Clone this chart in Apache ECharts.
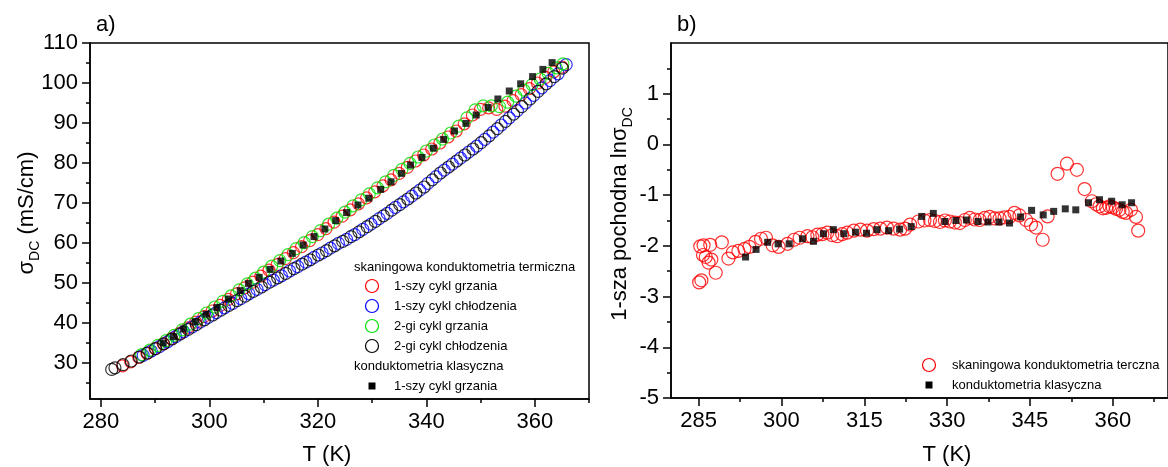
<!DOCTYPE html>
<html><head><meta charset="utf-8">
<script src="https://cdn.jsdelivr.net/npm/echarts@6/dist/echarts.min.js"></script>
<style>html,body{margin:0;padding:0;background:#fff}#c{width:1168px;height:467px}</style>
</head><body><div id="c"></div>
<script>
// ---------- panel a) data: T (K), sigma_DC (mS/cm) ----------
const heating1 = [[284.0,29.3],[285.5,30.3],[287.0,31.4],[288.5,32.4],[290.0,33.6],[291.5,34.8],[293.0,36.1],[294.5,37.4],[296.0,38.8],[297.5,40.2],[299.0,41.6],[300.5,43.0],[302.0,44.4],[303.5,45.9],[305.0,47.3],[306.5,48.8],[308.0,50.2],[309.5,51.7],[311.0,53.2],[312.5,54.6],[314.0,56.1],[315.5,57.6],[317.0,59.1],[318.5,60.6],[320.0,62.1],[321.5,63.6],[323.0,65.2],[324.5,66.7],[326.0,68.3],[327.5,69.8],[329.0,71.3],[330.5,72.8],[332.0,74.3],[333.5,75.8],[335.0,77.4],[336.5,78.9],[338.0,80.5],[339.5,82.0],[341.0,83.5],[342.5,85.0],[344.0,86.5],[345.5,88.0],[347.0,89.8],[348.5,92.0],[350.0,93.4],[351.5,93.8],[353.0,93.4],[354.5,94.2],[356.0,95.6],[357.5,97.1],[359.0,98.6],[360.5,100.0],[362.0,101.4],[363.5,102.8],[365.0,104.0]];
const cooling1 = [[365.8,104.6],[364.3,102.3],[362.8,100.6],[361.3,98.8],[359.8,96.9],[358.3,95.0],[356.8,93.1],[355.3,91.3],[353.8,89.5],[352.3,87.7],[350.8,85.9],[349.3,84.2],[347.8,82.7],[346.3,81.2],[344.8,79.7],[343.3,78.2],[341.8,76.6],[340.3,74.9],[338.8,73.2],[337.3,71.7],[335.8,70.3],[334.3,68.9],[332.8,67.4],[331.3,66.1],[329.8,64.7],[328.3,63.4],[326.8,62.1],[325.3,60.9],[323.8,59.9],[322.3,58.7],[320.8,57.5],[319.3,56.4],[317.8,55.2],[316.3,54.1],[314.8,53.0],[313.3,51.8],[311.8,50.7],[310.3,49.6],[308.8,48.4],[307.3,47.3],[305.8,46.1],[304.3,44.9],[302.8,43.8],[301.3,42.6],[299.8,41.4],[298.3,40.2],[296.8,39.0],[295.3,37.8],[293.8,36.6],[292.3,35.3],[290.8,34.1],[289.3,33.0],[287.8,31.9]];
const heating2 = [[287.5,32.1],[289.0,33.2],[290.5,34.4],[292.0,35.6],[293.5,36.9],[295.0,38.3],[296.5,39.7],[298.0,41.1],[299.5,42.5],[301.0,44.0],[302.5,45.4],[304.0,46.8],[305.5,48.3],[307.0,49.8],[308.5,51.2],[310.0,52.7],[311.5,54.2],[313.0,55.6],[314.5,57.1],[316.0,58.6],[317.5,60.1],[319.0,61.6],[320.5,63.1],[322.0,64.7],[323.5,66.2],[325.0,67.7],[326.5,69.3],[328.0,70.8],[329.5,72.3],[331.0,73.8],[332.5,75.3],[334.0,76.9],[335.5,78.4],[337.0,79.9],[338.5,81.5],[340.0,83.0],[341.5,84.5],[343.0,86.0],[344.5,87.5],[346.0,89.2],[347.5,91.3],[349.0,93.3],[350.5,94.3],[352.0,94.3],[353.5,94.1],[355.0,95.2],[356.5,96.7],[358.0,98.2],[359.5,99.6],[361.0,101.0],[362.5,102.4],[364.0,103.8],[365.2,104.8]];
const cooling2 = [[365.1,103.7],[363.6,101.6],[362.1,99.8],[360.6,97.9],[359.1,96.0],[357.6,94.1],[356.1,92.2],[354.6,90.4],[353.1,88.6],[351.6,86.8],[350.1,85.1],[348.6,83.5],[347.1,82.0],[345.6,80.5],[344.1,79.0],[342.6,77.5],[341.1,75.8],[339.6,74.0],[338.1,72.5],[336.6,71.0],[335.1,69.6],[333.6,68.2],[332.1,66.8],[330.6,65.4],[329.1,64.1],[327.6,62.8],[326.1,61.6],[324.6,60.4],[323.1,59.3],[321.6,58.1],[320.1,57.0],[318.6,55.8],[317.1,54.7],[315.6,53.6],[314.1,52.4],[312.6,51.3],[311.1,50.2],[309.6,49.0],[308.1,47.9],[306.6,46.7],[305.1,45.6],[303.6,44.4],[302.1,43.2],[300.6,42.0],[299.1,40.8],[297.6,39.6],[296.1,38.4],[294.6,37.2],[293.1,36.0],[291.6,34.8],[290.1,33.6],[288.6,32.5],[287.1,31.5],[285.6,30.5],[284.1,29.6],[282.6,28.8],[282.0,28.4]];
const classicA = [[291.5,35.0],[293.4,36.6],[295.2,38.5],[297.4,40.3],[299.4,42.2],[301.4,43.9],[303.5,46.0],[305.7,48.1],[307.2,49.9],[309.2,51.4],[311.2,53.4],[313.2,55.5],[315.3,57.4],[317.3,59.5],[319.3,61.6],[321.3,63.5],[323.3,65.6],[325.3,67.6],[327.4,69.5],[329.4,71.2],[331.6,73.4],[333.5,75.3],[335.4,77.4],[337.1,79.5],[339.2,81.4],[341.3,83.7],[343.2,85.9],[345.2,88.0],[347.3,89.9],[349.2,92.0],[351.4,93.9],[353.2,96.0],[355.3,98.0],[357.4,99.8],[359.6,101.6],[361.5,103.4],[363.2,105.1]];

// ---------- panel b) data: T (K), 1st derivative ln sigma_DC ----------
const scanB = [[285.1,-2.72],[285.5,-2.68],[285.3,-2.01],[285.9,-1.99],[287.1,-1.98],[285.8,-2.18],[286.3,-2.22],[286.8,-2.33],[287.3,-2.27],[288.1,-2.53],[289.2,-1.93],[290.4,-2.25],[291.2,-2.13],[292.2,-2.10],[293.3,-2.06],[294.2,-2.02],[295.3,-1.92],[296.3,-1.86],[297.2,-1.84],[298.4,-1.99],[299.5,-2.02],[301.1,-1.96],[302.3,-1.88],[303.3,-1.84],[304.7,-1.81],[305.6,-1.83],[306.5,-1.78],[307.4,-1.77],[308.3,-1.74],[309.2,-1.79],[310.1,-1.81],[311.0,-1.77],[311.9,-1.74],[313.1,-1.70],[314.3,-1.68],[315.5,-1.70],[316.7,-1.67],[317.9,-1.66],[319.1,-1.64],[320.3,-1.66],[321.5,-1.68],[322.4,-1.66],[323.3,-1.58],[324.8,-1.52],[325.9,-1.50],[326.9,-1.49],[327.8,-1.51],[328.7,-1.53],[329.6,-1.50],[330.5,-1.52],[331.4,-1.54],[332.3,-1.55],[333.2,-1.49],[334.1,-1.45],[335.0,-1.48],[335.9,-1.49],[336.8,-1.45],[337.7,-1.43],[338.6,-1.46],[339.5,-1.46],[340.4,-1.44],[341.3,-1.43],[342.2,-1.35],[343.1,-1.40],[344.3,-1.49],[345.2,-1.58],[346.1,-1.64],[347.3,-1.88],[348.2,-1.42],[350.0,-0.58],[351.7,-0.38],[353.5,-0.50],[354.9,-0.88],[356.2,-1.12],[357.0,-1.18],[357.6,-1.22],[358.2,-1.26],[358.8,-1.25],[359.4,-1.22],[360.0,-1.24],[360.6,-1.27],[361.2,-1.29],[361.8,-1.33],[362.4,-1.35],[363.3,-1.29],[364.2,-1.43],[364.6,-1.70]];
const classicB = [[293.5,-2.22],[295.4,-2.07],[297.5,-1.93],[299.4,-1.96],[301.4,-1.96],[303.8,-1.86],[305.8,-1.91],[307.6,-1.76],[309.4,-1.68],[311.3,-1.76],[313.4,-1.73],[315.4,-1.75],[317.3,-1.68],[319.4,-1.70],[321.4,-1.67],[323.5,-1.62],[325.4,-1.42],[327.5,-1.36],[329.6,-1.52],[331.6,-1.50],[333.5,-1.49],[335.6,-1.52],[337.4,-1.53],[339.4,-1.53],[341.3,-1.55],[343.3,-1.43],[345.3,-1.30],[347.4,-1.39],[349.3,-1.32],[351.4,-1.27],[353.3,-1.29],[355.6,-1.15],[357.6,-1.09],[359.8,-1.12],[361.7,-1.19],[363.4,-1.15]];

// ---------- ticks ----------
const xTicksA = [280,300,320,340,360];
const xMinorA = [290,310,330,350,370];
const yTicksA = [30,40,50,60,70,80,90,100,110];
const yMinorA = [25,35,45,55,65,75,85,95,105];
const xTicksB = [285,300,315,330,345,360];
const xMinorB = [292.5,307.5,322.5,337.5,352.5,367.5];
const yTicksB = [-5,-4,-3,-2,-1,0,1];
const yMinorB = [-4.5,-3.5,-2.5,-1.5,-0.5,0.5,1.5];

const legendA = ['1-szy cykl grzania','1-szy cykl chłodzenia','2-gi cykl grzania','2-gi cykl chłodzenia'];
const legendAHead = ['skaningowa konduktometria termiczna','konduktometria klasyczna'];
const legendAClassic = '1-szy cykl grzania';
const legendB = ['skaningowa konduktometria terczna','konduktometria klasyczna'];

const FONT = '"Liberation Sans", Arial, sans-serif';
const LINE = {color:'#000', width:1.5};

function mainAxis(grid, min, max, ticks, pos){
  return {gridIndex:grid, type:'value', min:min, max:max, position:pos,
    axisLine:{show:true, onZero:false, lineStyle:LINE},
    axisTick:{show:true, inside:false, length:8, customValues:ticks, lineStyle:LINE},
    axisLabel:{show:true, customValues:ticks, fontSize:22, fontFamily:FONT, color:'#000', margin:12},
    splitLine:{show:false}};
}
function minorAxis(grid, min, max, ticks, pos){
  return {gridIndex:grid, type:'value', min:min, max:max, position:pos,
    axisLine:{show:false, onZero:false},
    axisTick:{show:true, inside:false, length:4, customValues:ticks, lineStyle:LINE},
    axisLabel:{show:false}, splitLine:{show:false}};
}
function circles(name, data, color, xi, yi, size){
  return {name:name, type:'scatter', xAxisIndex:xi, yAxisIndex:yi, data:data,
    symbol:'circle', symbolSize:size,
    itemStyle:{color:'rgba(0,0,0,0)', borderColor:color, borderWidth:1.2}};
}
function squares(name, data, xi, yi, size){
  return {name:name, type:'scatter', xAxisIndex:xi, yAxisIndex:yi, data:data,
    symbol:'rect', symbolSize:size, itemStyle:{color:'#000'}};
}
function txt(x, y, text, size, align){
  return {type:'text', x:x, y:y, silent:true,
    style:{text:text, font:size+'px '+FONT, fill:'#000', align:align||'left', textAlign:align||'left', verticalAlign:'middle', textVerticalAlign:'middle'}};
}
function subTitle(x, y, main, sub, tail){
  return {type:'text', x:x, y:y, rotation:Math.PI/2, silent:true,
    style:{text:'{m|'+main+'}{s|'+sub+'}{m|'+tail+'}', align:'center', textAlign:'center', verticalAlign:'middle', textVerticalAlign:'middle',
      rich:{m:{fontSize:22, fontFamily:FONT, fill:'#000', color:'#000', lineHeight:30, verticalAlign:'middle'},
            s:{fontSize:14, fontFamily:FONT, fill:'#000', color:'#000', lineHeight:14, verticalAlign:'bottom'}}}};
}
function legCircle(cx, cy, color){
  return {type:'circle', silent:true, shape:{cx:cx, cy:cy, r:6.5}, style:{fill:'none', stroke:color, lineWidth:1.2}};
}
function legSquare(cx, cy){
  return {type:'rect', silent:true, shape:{x:cx-3.5, y:cy-3.5, width:7, height:7}, style:{fill:'#000'}};
}

const colorsA = ['#ff0000','#0000ff','#00e000','#000000'];

const option = {
  animation:false,
  backgroundColor:'#fff',
  grid:[
    {left:90, top:43, width:499, height:356, show:true, borderColor:'#000', borderWidth:1.5, backgroundColor:'transparent'},
    {left:671, top:43, width:499, height:355, show:true, borderColor:'#000', borderWidth:1.5, backgroundColor:'transparent'}
  ],
  xAxis:[
    mainAxis(0,278,370,xTicksA,'bottom'), minorAxis(0,278,370,xMinorA,'bottom'),
    mainAxis(1,280,370,xTicksB,'bottom'), minorAxis(1,280,370,xMinorB,'bottom')
  ],
  yAxis:[
    mainAxis(0,21,110,yTicksA,'left'), minorAxis(0,21,110,yMinorA,'left'),
    mainAxis(1,-5,2,yTicksB,'left'), minorAxis(1,-5,2,yMinorB,'left')
  ],
  series:[
    circles(legendA[0], heating1, colorsA[0], 0, 0, 12),
    circles(legendA[1], cooling1, colorsA[1], 0, 0, 12),
    circles(legendA[2], heating2, colorsA[2], 0, 0, 12),
    circles(legendA[3], cooling2, colorsA[3], 0, 0, 12),
    squares(legendAClassic, classicA, 0, 0, 7),
    circles(legendB[0], scanB, '#ff0000', 2, 2, 13),
    squares(legendB[1], classicB, 2, 2, 7)
  ],
  graphic:[
    txt(96, 25, 'a)', 22),
    txt(677, 25, 'b)', 22),
    txt(327, 455, 'T (K)', 22, 'center'),
    txt(947, 455, 'T (K)', 22, 'center'),
    subTitle(27, 213, 'σ', 'DC', ' (mS/cm)'),
    subTitle(620, 214, '1-sza pochodna lnσ', 'DC', ''),
    txt(354, 267, legendAHead[0], 13),
    legCircle(372, 286, colorsA[0]), txt(394, 286, legendA[0], 13),
    legCircle(372, 306, colorsA[1]), txt(394, 306, legendA[1], 13),
    legCircle(372, 326, colorsA[2]), txt(394, 326, legendA[2], 13),
    legCircle(372, 346, colorsA[3]), txt(394, 346, legendA[3], 13),
    txt(354, 366, legendAHead[1], 13),
    legSquare(372, 386), txt(394, 386, legendAClassic, 13),
    legCircle(929, 365, '#ff0000'), txt(952, 365, legendB[0], 13),
    legSquare(929, 385), txt(952, 385, legendB[1], 13)
  ]
};
const chart = echarts.init(document.getElementById('c'), null, {renderer:'canvas'});
chart.setOption(option);
</script>
</body></html>
